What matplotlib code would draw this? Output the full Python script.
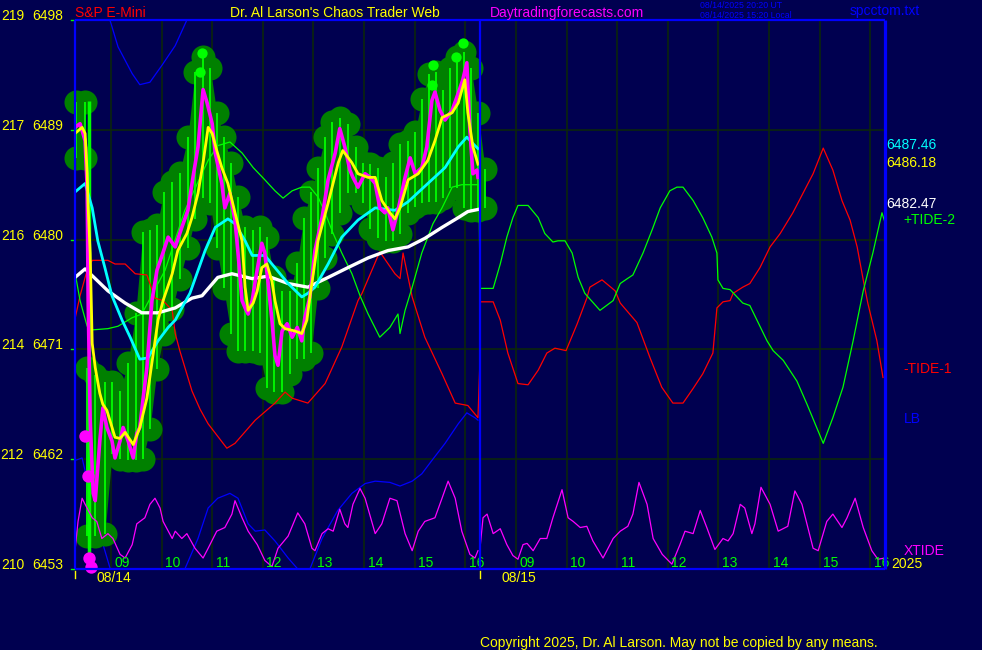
import matplotlib
matplotlib.use("Agg")
import matplotlib.pyplot as plt
import matplotlib.transforms as mtransforms

# ---------------- data (x = hours from chart start, two sessions of 8 h) ----------------
DAY_OPEN = 8.29          # clock hour at the left edge of each session
SESSION_H = 8.0
days = ["08/14", "08/15"]
hours = [9, 10, 11, 12, 13, 14, 15, 16]
y_ticks = [6498, 6489, 6480, 6471, 6462, 6453]
y_alt = [219, 217, 216, 214, 212, 210]

# -TIDE-1 (red)
tide1_d1_t = [0.00,0.10,0.24,0.34,0.65,0.79,0.99,1.19,1.42,1.48,1.58,1.74,1.92,1.98,2.07,2.31,2.47,2.63,3.00,3.16,3.56,3.95,4.15,4.29,4.60,4.94,5.27,5.59,5.67,6.02,6.32,6.42,6.48,6.62,6.66,6.91,7.25,7.51,7.76,7.96,8.00]
tide1_d1_v = [6473.5,6475.4,6477.5,6478.3,6478.3,6478.0,6478.0,6477.2,6477.1,6476.4,6475.2,6475.0,6474.2,6472.3,6470.9,6467.6,6466.1,6464.9,6462.9,6463.3,6465.2,6466.6,6467.5,6467.0,6466.6,6468.2,6471.2,6475.0,6475.6,6479.0,6477.2,6476.8,6478.9,6476.1,6475.3,6472.0,6469.0,6466.6,6466.4,6465.4,6470.3]
tide1_d2_t = [8.00,8.26,8.40,8.55,8.75,8.95,9.15,9.32,9.48,9.70,9.92,10.11,10.17,10.41,10.67,10.77,11.10,11.36,11.59,11.81,12.01,12.21,12.40,12.60,12.68,12.80,12.94,13.00,13.19,13.33,13.53,13.73,13.93,14.18,14.38,14.58,14.78,14.97,15.15,15.31,15.45,15.57,15.66,15.84,15.96]
tide1_d2_v = [6474.9,6474.9,6473.4,6470.7,6468.2,6468.1,6469.3,6470.7,6471.1,6470.9,6473.1,6475.2,6476.1,6476.7,6475.8,6474.8,6473.2,6470.3,6467.9,6466.6,6466.6,6467.8,6469.0,6470.7,6474.4,6474.9,6475.0,6475.6,6476.1,6476.4,6477.7,6479.4,6480.5,6482.2,6483.8,6485.4,6487.5,6485.7,6483.2,6481.6,6479.4,6476.7,6474.8,6471.7,6468.7]

# +TIDE-2 (green)
tide2_d1_t = [0.00,0.10,0.24,0.34,0.65,0.85,1.13,1.32,1.78,2.17,2.63,2.82,3.06,3.30,3.52,3.75,3.95,4.11,4.29,4.48,4.64,4.80,4.94,5.10,5.27,5.47,5.63,5.79,6.02,6.22,6.38,6.42,6.52,6.66,6.85,7.07,7.25,7.45,7.64,7.90,7.98,8.00]
tide2_d1_v = [6477.3,6475.0,6472.9,6472.6,6472.7,6472.9,6473.6,6473.9,6477.5,6482.4,6486.5,6487.7,6488.0,6487.1,6485.9,6484.9,6484.0,6483.4,6484.0,6484.3,6484.3,6483.5,6482.2,6480.5,6478.9,6477.2,6475.4,6473.9,6472.0,6472.8,6473.9,6472.3,6474.2,6476.1,6478.9,6481.3,6482.6,6484.3,6484.5,6484.5,6484.5,6476.0]
tide2_d2_t = [8.00,8.26,8.40,8.53,8.65,8.75,8.95,9.15,9.28,9.44,9.54,9.68,9.82,9.94,10.07,10.37,10.63,10.77,10.91,11.02,11.22,11.40,11.56,11.75,11.89,12.01,12.21,12.40,12.58,12.68,12.70,12.80,12.94,13.19,13.33,13.67,13.79,13.99,14.26,14.46,14.78,14.97,15.17,15.37,15.57,15.76,15.94,16.00]
tide2_d2_v = [6476.0,6476.0,6478.0,6480.2,6481.8,6482.8,6482.8,6481.8,6480.5,6479.8,6479.9,6479.9,6478.9,6476.9,6475.6,6474.2,6475.0,6476.4,6476.8,6477.1,6478.9,6480.8,6482.6,6484.0,6484.3,6484.3,6483.2,6481.8,6480.2,6478.9,6476.7,6476.0,6475.9,6474.8,6474.6,6471.7,6470.9,6470.1,6468.4,6466.5,6463.3,6465.4,6467.9,6471.7,6475.8,6478.9,6482.2,6481.4]

# LB (blue), day 1 only (two visible pieces)
lb_top_t = [0.65,0.69,0.85,1.13,1.28,1.48,1.72,1.98,2.21,2.27]
lb_top_v = [6498.5,6498.0,6495.8,6493.6,6492.7,6492.9,6494.3,6495.9,6498.0,6498.5]
lb_low_t = [0.00,0.14,0.49,0.69,0.75,2.07,2.17,2.43,2.63,2.82,3.06,3.22,3.42,3.56,3.75,3.95,4.21,4.40,4.52,4.64,4.88,5.19,5.47,5.73,5.93,6.22,6.42,6.66,6.85,7.05,7.31,7.57,7.74,7.90,7.96]
lb_low_v = [6461.9,6462.1,6455.9,6453.1,6452.0,6452.0,6453.0,6455.5,6458.0,6458.8,6459.2,6458.8,6456.7,6456.1,6456.2,6455.3,6453.9,6453.0,6452.7,6453.0,6455.5,6457.8,6459.2,6460.0,6460.2,6460.1,6459.8,6460.2,6460.8,6461.9,6463.3,6464.9,6465.8,6465.4,6465.2]

# XTIDE (magenta, bottom)
xtide_d1_t = [0.00,0.06,0.14,0.20,0.34,0.43,0.53,0.65,0.75,0.89,0.99,1.13,1.22,1.38,1.48,1.58,1.68,1.74,1.92,1.98,2.11,2.21,2.37,2.53,2.63,2.80,2.96,3.10,3.16,3.30,3.42,3.60,3.75,3.89,4.01,4.21,4.40,4.54,4.68,4.74,4.88,5.00,5.10,5.23,5.33,5.39,5.49,5.63,5.73,5.93,6.06,6.22,6.36,6.52,6.66,6.78,6.91,7.11,7.25,7.37,7.51,7.64,7.80,7.90,7.96]
xtide_d1_v = [6454.5,6456.9,6458.8,6458.3,6457.2,6456.9,6455.5,6455.9,6455.5,6454.2,6453.9,6455.0,6456.7,6457.2,6458.3,6458.8,6458.0,6456.9,6455.5,6456.1,6455.5,6455.9,6454.7,6453.9,6454.7,6456.1,6456.4,6457.5,6458.6,6457.2,6456.1,6455.0,6453.7,6453.2,6454.7,6455.7,6457.6,6456.7,6454.7,6454.5,6455.9,6456.3,6456.1,6457.9,6456.7,6456.4,6458.3,6459.6,6458.8,6455.9,6456.7,6458.8,6458.6,6455.9,6454.5,6456.1,6456.9,6457.2,6458.8,6460.2,6458.8,6456.1,6454.2,6453.9,6454.5]
xtide_d2_t = [8.00,8.06,8.14,8.26,8.40,8.53,8.65,8.75,8.85,8.93,9.05,9.19,9.32,9.44,9.62,9.74,9.84,9.98,10.11,10.23,10.43,10.63,10.77,10.92,11.02,11.14,11.30,11.42,11.60,11.79,11.95,12.05,12.21,12.35,12.48,12.64,12.80,12.90,13.00,13.14,13.23,13.37,13.43,13.55,13.73,13.89,14.08,14.22,14.36,14.58,14.68,14.85,14.97,15.15,15.25,15.41,15.57,15.74,15.86,16.00]
xtide_d2_v = [6454.7,6457.2,6457.5,6455.9,6456.3,6455.0,6454.1,6453.8,6455.0,6455.1,6454.5,6455.5,6455.5,6457.2,6459.5,6457.2,6456.9,6456.4,6456.5,6455.3,6453.9,6455.5,6456.1,6456.5,6457.5,6460.1,6458.3,6455.5,6454.2,6453.4,6455.0,6456.1,6455.9,6457.8,6456.4,6454.6,6455.5,6455.3,6455.9,6458.3,6458.0,6455.9,6456.7,6459.7,6458.3,6456.1,6456.5,6459.4,6458.3,6454.7,6454.5,6456.9,6457.5,6456.4,6457.2,6458.8,6456.4,6454.5,6453.8,6453.9]

# moving averages (day 1)
white_t = [0.00,0.20,0.40,0.65,0.99,1.32,1.64,1.98,2.31,2.51,2.82,3.10,3.50,3.81,4.21,4.60,5.00,5.39,5.79,6.18,6.58,6.91,7.25,7.57,7.76,7.96]
white_v = [6476.9,6477.6,6476.8,6475.8,6474.8,6474.0,6474.0,6474.4,6475.2,6475.4,6476.9,6477.2,6476.8,6477.0,6476.4,6476.1,6476.9,6477.7,6478.5,6479.1,6479.4,6480.1,6481.0,6481.8,6482.3,6482.47]
cyan_t = [0.00,0.20,0.34,0.45,0.59,0.73,0.93,1.09,1.28,1.44,1.64,1.84,1.98,2.11,2.27,2.57,2.77,3.02,3.16,3.36,3.50,3.75,3.95,4.21,4.48,4.60,4.74,5.00,5.27,5.59,5.93,6.32,6.58,6.97,7.31,7.57,7.74,7.90,7.96]
cyan_v = [6483.9,6484.6,6482.6,6479.9,6477.7,6475.4,6473.4,6472.0,6470.2,6470.3,6471.7,6472.8,6473.4,6474.4,6475.6,6479.1,6481.0,6481.7,6481.3,6479.9,6478.7,6478.7,6477.7,6476.4,6475.3,6475.6,6476.1,6478.0,6480.2,6481.6,6482.6,6482.4,6483.1,6484.6,6485.9,6487.6,6488.4,6487.7,6487.46]
yellow_t = [0.00,0.14,0.20,0.24,0.26,0.30,0.34,0.40,0.49,0.55,0.63,0.79,0.89,0.99,1.15,1.28,1.42,1.54,1.64,1.74,1.92,2.03,2.21,2.31,2.43,2.53,2.63,2.71,2.80,2.90,3.02,3.16,3.30,3.36,3.42,3.52,3.60,3.69,3.79,3.89,3.95,4.05,4.15,4.35,4.48,4.58,4.64,4.80,5.00,5.20,5.29,5.47,5.59,5.79,5.93,6.06,6.22,6.32,6.42,6.58,6.78,6.97,7.11,7.25,7.45,7.57,7.70,7.76,7.86,7.96]
yellow_v = [6488.7,6489.2,6488.7,6485.4,6482.6,6478.9,6471.5,6469.5,6467.4,6466.5,6466.0,6463.8,6463.7,6464.2,6463.2,6464.6,6467.0,6470.5,6473.4,6475.0,6477.2,6479.1,6480.5,6481.8,6483.8,6486.3,6489.2,6488.7,6487.3,6485.9,6484.6,6482.2,6479.9,6476.1,6474.2,6474.8,6475.8,6477.7,6478.0,6476.6,6475.0,6473.1,6472.7,6472.5,6472.3,6473.4,6475.3,6479.9,6483.0,6486.3,6487.3,6486.3,6485.4,6485.1,6485.1,6483.2,6482.2,6481.7,6482.6,6484.9,6485.4,6486.5,6488.1,6490.0,6490.4,6491.2,6493.1,6490.4,6487.6,6486.18]

# price (magenta)
price_t = [0.00,0.10,0.20,0.24,0.26,0.30,0.36,0.40,0.49,0.55,0.63,0.73,0.79,0.89,0.95,1.05,1.15,1.22,1.28,1.34,1.42,1.52,1.62,1.72,1.84,1.98,2.11,2.23,2.33,2.43,2.53,2.61,2.71,2.77,2.90,2.96,3.06,3.16,3.22,3.30,3.36,3.42,3.50,3.56,3.69,3.75,3.81,3.89,3.95,4.01,4.09,4.19,4.29,4.39,4.48,4.54,4.64,4.74,4.88,5.00,5.14,5.23,5.33,5.43,5.49,5.59,5.73,5.83,5.93,6.02,6.12,6.18,6.28,6.38,6.52,6.62,6.72,6.85,6.95,7.05,7.11,7.21,7.31,7.45,7.57,7.66,7.74,7.80,7.86,7.94,7.96]
price_v = [6489.2,6489.5,6488.1,6484.3,6475.0,6465.2,6459.2,6458.6,6463.5,6466.2,6464.6,6463.5,6462.1,6463.5,6464.6,6463.5,6462.1,6464.1,6464.6,6466.8,6469.5,6475.0,6477.5,6478.7,6480.2,6479.4,6481.0,6482.4,6485.1,6487.6,6492.3,6491.2,6489.5,6487.1,6484.6,6482.6,6483.8,6481.6,6478.9,6475.0,6474.4,6473.9,6475.0,6476.6,6479.7,6478.9,6476.6,6473.4,6470.5,6469.7,6472.5,6473.1,6472.0,6472.8,6471.7,6473.6,6475.3,6479.1,6481.8,6484.9,6487.1,6489.1,6487.6,6485.7,6485.1,6484.3,6485.4,6485.1,6484.6,6482.6,6482.2,6482.6,6480.8,6482.4,6485.1,6486.7,6485.4,6485.9,6487.6,6491.4,6492.1,6490.6,6489.8,6490.6,6492.0,6493.1,6494.5,6489.0,6485.4,6485.7,6485.1]

# price-bar band (high / low of the green bars)
open_t = [0.02, 0.20]
open_hi = [6491.3, 6491.3]
open_lo = [6486.7, 6486.7]
band_t = [0.24,0.40,0.59,0.73,0.89,1.05,1.20,1.34,1.48,1.62,1.76,1.92,2.07,2.23,2.37,2.53,2.67,2.80,2.94,3.08,3.22,3.36,3.52,3.65,3.79,3.93,4.09,4.25,4.39,4.52,4.66,4.80,4.94,5.08,5.23,5.39,5.55,5.69,5.83,5.99,6.14,6.28,6.42,6.58,6.72,6.85,6.99,7.13,7.27,7.41,7.55,7.68,7.82,7.96,8.10]
band_hi = [6469.5,6468.9,6468.3,6468.3,6467.6,6469.9,6474.0,6480.6,6480.8,6481.2,6483.9,6484.7,6485.5,6488.4,6493.7,6495.0,6494.1,6490.4,6488.4,6486.3,6483.5,6481.0,6480.8,6481.0,6480.2,6476.9,6475.8,6475.8,6478.1,6481.8,6483.9,6485.9,6488.4,6489.6,6490.0,6489.5,6487.6,6486.3,6486.2,6485.9,6485.1,6486.3,6487.8,6488.1,6488.8,6491.5,6493.6,6493.7,6492.3,6494.1,6495.0,6495.4,6494.1,6490.4,6485.8]
band_lo = [6455.7,6455.7,6455.9,6462.4,6462.0,6461.9,6461.9,6462.0,6464.5,6469.4,6472.3,6474.3,6476.8,6479.3,6481.7,6483.4,6483.0,6479.3,6476.0,6472.3,6470.9,6470.9,6470.9,6470.7,6467.8,6467.5,6467.5,6469.0,6470.2,6470.2,6470.7,6476.0,6478.5,6480.5,6482.2,6483.8,6483.8,6483.0,6480.9,6480.1,6479.9,6479.9,6480.5,6482.2,6482.7,6483.0,6483.1,6483.1,6483.4,6484.2,6484.2,6482.6,6482.4,6482.4,6482.6]
plunge_t = 0.28
plunge_hi, plunge_lo = 6491.4, 6453.0
lime_t = [2.51, 2.47, 7.07, 7.05, 7.66, 7.53]
lime_v = [6495.3, 6493.7, 6494.3, 6492.7, 6496.1, 6495.0]
mag_dot_t = [0.20, 0.26, 0.28, 0.32]
mag_dot_v = [6463.9, 6460.6, 6453.9, 6453.2]

last_cyan, last_yellow, last_white = "6487.46", "6486.18", "6482.47"

# ---------------- styling ----------------
BG = "#000050"
GRID = "#0c260c"
BLUE = "#0000ff"
YEL = "#ffff00"
GRN = "#00ff00"
DKG = "#008000"
MAG = "#ff00ff"
RED = "#ff0000"
CYA = "#00ffff"
FONT = ["Liberation Sans", "DejaVu Sans"]
plt.rcParams["font.family"] = FONT

W, H = 982, 650
fig = plt.figure(figsize=(W / 100, H / 100), dpi=100, facecolor=BG)
ax = fig.add_axes([75 / W, (H - 569) / H, 810 / W, 549 / H])
ax.set_facecolor(BG)
ax.set_xlim(0, 16)
ax.set_ylim(6453, 6498)
ax.set_xticks([])
ax.set_yticks([])
for s in ax.spines.values():
    s.set_visible(False)

# grid
for v in y_ticks[1:-1]:
    ax.axhline(v, color=GRID, lw=1.2, zorder=0)
grid_t = []
for d in range(len(days)):
    for h in hours:
        grid_t.append(d * SESSION_H + h - DAY_OPEN)
for g in grid_t:
    ax.axvline(g, color=GRID, lw=1.2, zorder=0)

# LB below the bars
ax.plot(lb_top_t, lb_top_v, color=BLUE, lw=0.9, zorder=1)
ax.plot(lb_low_t, lb_low_v, color=BLUE, lw=0.9, zorder=1)

# price bars band
S_BLOB = 300
for tt, hi, lo in [(open_t, open_hi, open_lo), (band_t, band_hi, band_lo)]:
    ax.fill_between(tt, hi, lo, color=DKG, lw=0, zorder=2)
    ax.scatter(tt, hi, s=S_BLOB, color=DKG, lw=0, zorder=2, clip_on=False)
    ax.scatter(tt, lo, s=S_BLOB, color=DKG, lw=0, zorder=2, clip_on=False)
    ax.vlines(tt, lo, hi, colors=GRN, lw=1.3, zorder=3)
ax.vlines([plunge_t], [plunge_lo], [plunge_hi], colors=GRN, lw=2.5, zorder=3)
ax.scatter(lime_t, lime_v, s=55, color=GRN, lw=0, zorder=3)

# tides
ax.plot(tide1_d1_t, tide1_d1_v, color=RED, lw=0.9, zorder=4)
ax.plot(tide1_d2_t, tide1_d2_v, color=RED, lw=0.9, zorder=4)
ax.plot(tide2_d1_t, tide2_d1_v, color=GRN, lw=0.9, zorder=4)
ax.plot(tide2_d2_t, tide2_d2_v, color=GRN, lw=0.9, zorder=4)
ax.plot(xtide_d1_t, xtide_d1_v, color=MAG, lw=0.9, zorder=4)
ax.plot(xtide_d2_t, xtide_d2_v, color=MAG, lw=0.9, zorder=4)

# averages and price
ax.plot(white_t, white_v, color="white", lw=2.4, zorder=5)
ax.plot(cyan_t, cyan_v, color=CYA, lw=2.0, zorder=5)
ax.plot(price_t, price_v, color=MAG, lw=2.6, zorder=6)
ax.plot(yellow_t, yellow_v, color=YEL, lw=2.0, zorder=7)
ax.scatter(mag_dot_t, mag_dot_v, s=80, color=MAG, lw=0, zorder=8, clip_on=False)

# frame and day separator
kw = dict(color=BLUE, clip_on=False, zorder=9, solid_capstyle="butt")
ax.plot([0, 16], [6498, 6498], lw=1.6, **kw)
ax.plot([0, 16], [6453, 6453], lw=1.6, **kw)
ax.plot([0, 0], [6453, 6498], lw=1.6, **kw)
ax.plot([16, 16], [6453, 6498], lw=2.3, **kw)
ax.plot([SESSION_H, SESSION_H], [6453, 6498], lw=1.6, **kw)

# axis texts
bl = mtransforms.blended_transform_factory(fig.transFigure, ax.transData)
for a, v in zip(y_alt, y_ticks):
    ax.text(24 / W, v, str(a), transform=bl, color=YEL, fontsize=10, ha="right", va="baseline")
    ax.text(63 / W, v, str(v), transform=bl, color=YEL, fontsize=10, ha="right", va="baseline")
    ax.plot([-0.07, -0.01], [v, v], color=GRN, lw=1, clip_on=False)
for d, day in enumerate(days):
    for h in hours:
        ax.text(d * SESSION_H + h - DAY_OPEN + 0.22, 6453.15, f"{h:02d}", color=GRN,
                fontsize=10, ha="center", va="baseline", zorder=8)
    ax.text(d * SESSION_H + 0.77, 6452.25, day, color=YEL, fontsize=10, ha="center", va="center",
            clip_on=False)
    ax.plot([d * SESSION_H] * 2, [6452.8, 6452.3], color=YEL, lw=1, clip_on=False)

ax.text(16.02, 6487.46, last_cyan, color=CYA, fontsize=10, ha="left", va="baseline", clip_on=False)
ax.text(16.02, 6486.18 - 0.25, last_yellow, color=YEL, fontsize=10, ha="left", va="baseline", clip_on=False)
ax.text(16.02, 6482.47 + 0.15, last_white, color="white", fontsize=10, ha="left", va="baseline", clip_on=False)
ax.text(16.36, 6481.6, "+TIDE-2", color=GRN, fontsize=10, ha="left", va="center", clip_on=False)
ax.text(16.36, 6469.4, "-TIDE-1", color=RED, fontsize=10, ha="left", va="center", clip_on=False)
ax.text(16.38, 6465.3, "LB", color=BLUE, fontsize=10, ha="left", va="center", clip_on=False)
ax.text(16.36, 6454.45, "XTIDE", color=MAG, fontsize=10, ha="left", va="center", clip_on=False)
ax.text(16.12, 6453.1, "2025", color=YEL, fontsize=10, ha="left", va="baseline", clip_on=False)

# header / footer
fig.text(75 / W, 1 - 13 / H, "S&P E-Mini", color=RED, fontsize=10, ha="left", va="center")
fig.text(230 / W, 1 - 13 / H, "Dr. Al Larson's Chaos Trader Web", color=YEL, fontsize=10, ha="left", va="center")
fig.text(490 / W, 1 - 13 / H, "Daytradingforecasts.com", color=MAG, fontsize=10, ha="left", va="center")
fig.text(700 / W, 1 - 5.5 / H, "08/14/2025 20:20 UT", color=BLUE, fontsize=6.3, ha="left", va="center")
fig.text(700 / W, 1 - 15.5 / H, "08/14/2025 15:20 Local", color=BLUE, fontsize=6.3, ha="left", va="center")
fig.text(850 / W, 1 - 11 / H, "spcctom.txt", color=BLUE, fontsize=10, ha="left", va="center")
fig.text(480 / W, 1 - 643 / H, "Copyright 2025, Dr. Al Larson. May not be copied by any means.",
         color=YEL, fontsize=10, ha="left", va="center")

fig.savefig("out.png", dpi=100, facecolor=BG)
